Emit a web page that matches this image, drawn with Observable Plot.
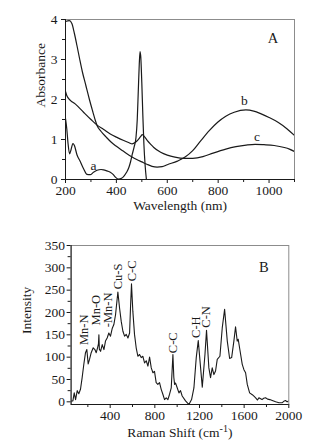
<!DOCTYPE html>
<html><head><meta charset="utf-8">
<script src="https://cdn.jsdelivr.net/npm/d3@7"></script>
<script src="https://cdn.jsdelivr.net/npm/@observablehq/plot@0.6"></script>
<style>
html,body{margin:0;padding:0;background:#fff;}
#chart{width:312px;}
#chart svg{display:block;}
</style>
</head><body><div id="chart"></div>
<script>
// ---------- Panel A: UV-Vis absorbance ----------
const waveA = [200,205,210,216,222,229,235,245,258,271,284,297,310,324,340,350,365,376,388,396,409,420,429,440,449,456,462,470,477,482,486,490,493,496,500,504,508,513,518];
const absA  = [1.52,1.27,0.9,0.64,0.75,0.9,0.85,0.62,0.45,0.27,0.13,0.12,0.18,0.23,0.25,0.24,0.21,0.18,0.12,0.06,0.01,0.03,0.08,0.18,0.3,0.45,0.62,0.82,1.05,1.5,2.2,2.9,3.2,3.05,2.4,1.6,0.9,0.35,0];

const waveB = [200,215,225,235,245,256,266,280,294,308,317,324,340,360,380,400,420,440,460,480,500,520,540,560,580,600,640,670,700,732,765,798,830,863,909,940,969,1000,1035,1070,1100];
const absB  = [3.95,3.97,3.9,3.65,3.35,3.0,2.7,2.35,2.0,1.68,1.48,1.35,1.2,1.06,0.93,0.83,0.74,0.65,0.57,0.5,0.44,0.38,0.33,0.31,0.32,0.37,0.46,0.56,0.72,0.97,1.22,1.43,1.58,1.68,1.74,1.71,1.64,1.55,1.43,1.27,1.1];

const waveC = [200,205,219,238,271,300,324,350,376,400,429,450,462,475,485,495,502,510,521,535,547,574,600,630,666,700,740,780,830,870,910,945,980,1020,1060,1080,1100];
const absC  = [2.2,2.1,1.98,1.89,1.68,1.5,1.36,1.25,1.14,1.06,0.975,0.92,0.89,0.93,0.99,1.07,1.12,1.07,0.98,0.88,0.8,0.68,0.61,0.56,0.53,0.53,0.57,0.66,0.76,0.82,0.86,0.88,0.87,0.85,0.8,0.76,0.7];

const curveNames = ["a","b","c"];
const curveLabelX = [310, 903, 953];
const curveLabelY = [0.35, 1.98, 1.06];

const xTicksA = [200,400,600,800,1000];
const xMinorA = [300,500,700,900,1100];
const yTicksA = [0,1,2,3,4];
const yMinorA = [0.5,1.5,2.5,3.5];

// ---------- Panel B: Raman ----------
const ramanShift = [55,66,78,90,105,119,134,149,164,179,191,203,215,230,248,263,275,287,295,299,303,314,329,344,358,373,388,403,418,433,448,469,484,499,514,529,544,559,574,582,591,603,618,633,648,663,678,693,708,723,738,753,768,783,797,812,827,842,857,872,887,902,917,932,947,962,970,977,986,1001,1016,1030,1045,1075,1105,1129,1150,1171,1189,1210,1225,1249,1263,1284,1299,1314,1329,1344,1359,1383,1404,1425,1449,1470,1488,1508,1523,1538,1547,1559,1583,1598,1613,1628,1649,1673,1690,1703,1720,1732,1760,1775,1792,1810,1830,1852,1882,1912,1942,1960,1971,1985,2000];
const ramanInt   = [2,2,20,5,25,18,28,54,84,110,117,85,95,110,121,117,110,121,130,150,118,113,128,117,136,143,154,147,164,173,195,246,210,180,158,147,151,143,154,210,264,203,151,121,102,106,99,102,87,92,80,100,76,65,68,43,39,43,28,17,5,9,5,17,31,106,55,39,42,31,20,25,13,2,-6,5,31,99,137,76,33,106,160,76,54,76,61,69,95,102,166,207,136,97,99,136,168,136,140,121,84,72,65,39,20,16,12,9,4,9,5,8,9,6,5,3,0,-2,-2,2,3,0,2];

const peakNames = ["Mn-N","Mn-O","-Mn-N","Cu-S","C-C","C-C","C-H","C-N"];
const peakX = [170,269,385,470,594,962,1165,1259];
const peakY = [127,171,167,252,270,109,143,166];

const xTicksB = [400,800,1200,1600,2000];
const xMinorB = [200,600,1000,1400,1800];
const yTicksB = [0,50,100,150,200,250,300,350];
const yMinorB = [25,75,125,175,225,275,325];

// ---------- build ----------
const font = "'Liberation Serif','Times New Roman',serif";
const ink = "#1a1a1a";
const zipXY = (xs, ys) => xs.map((x, i) => ({x, y: ys[i]}));
const fmt = d => String(d);

const plotA = Plot.plot({
  width: 312, height: 223,
  marginLeft: 65, marginRight: 18, marginTop: 19, marginBottom: 44,
  style: {fontFamily: font, fontSize: "13.5px", color: ink, background: "#fff", overflow: "visible"},
  x: {domain: [200, 1100]},
  y: {domain: [0, 4]},
  marks: [
    Plot.frame({stroke: "#8c8c8c"}),
    Plot.ruleX([200], {stroke: ink}),
    Plot.ruleY([0], {stroke: ink}),
    Plot.axisX({ticks: xTicksA, tickSize: 4, tickPadding: 2, tickFormat: fmt, label: null}),
    Plot.axisX({ticks: xMinorA, tickSize: 3, tickFormat: () => "", label: null}),
    Plot.axisY({ticks: yTicksA, tickSize: 4, tickPadding: 4, tickFormat: fmt, label: null}),
    Plot.axisY({ticks: yMinorA, tickSize: 3, tickFormat: () => "", label: null}),
    Plot.line(zipXY(waveA, absA), {x: "x", y: "y", stroke: ink, strokeWidth: 1.2, curve: "monotone-x", clip: true}),
    Plot.line(zipXY(waveB, absB), {x: "x", y: "y", stroke: ink, strokeWidth: 1.2, curve: "monotone-x", clip: true}),
    Plot.line(zipXY(waveC, absC), {x: "x", y: "y", stroke: ink, strokeWidth: 1.2, curve: "monotone-x", clip: true}),
    Plot.text(curveNames, {x: (d, i) => curveLabelX[i], y: (d, i) => curveLabelY[i], text: d => d, fontSize: 13.5, fill: ink}),
    Plot.text(["A"], {x: [1015], y: [3.52], text: d => d, fontSize: 14.5, fill: ink}),
    Plot.text(["Wavelength (nm)"], {frameAnchor: "bottom", dy: 26, text: d => d, fontSize: 13.5, lineAnchor: "middle", fill: ink}),
    Plot.text(["Absorbance"], {frameAnchor: "left", dx: -25, dy: 8, rotate: -90, text: d => d, fontSize: 13.5, lineAnchor: "middle", fill: ink})
  ]
});

const plotB = Plot.plot({
  width: 312, height: 223,
  marginLeft: 70.6, marginRight: 23.7, marginTop: 22, marginBottom: 42,
  style: {fontFamily: font, fontSize: "13.5px", color: ink, background: "#fff", overflow: "visible"},
  x: {domain: [50, 2000]},
  y: {domain: [-6, 350]},
  marks: [
    Plot.frame({stroke: "#8c8c8c"}),
    Plot.ruleX([50], {stroke: ink}),
    Plot.ruleY([-6], {stroke: ink}),
    Plot.axisX({ticks: xTicksB, tickSize: 4, tickPadding: 2, tickFormat: fmt, label: null}),
    Plot.axisX({ticks: xMinorB, tickSize: 3, tickFormat: () => "", label: null}),
    Plot.axisY({ticks: yTicksB, tickSize: 4, tickPadding: 2, tickFormat: fmt, label: null}),
    Plot.axisY({ticks: yMinorB, tickSize: 3, tickFormat: () => "", label: null}),
    Plot.line(zipXY(ramanShift, ramanInt), {x: "x", y: "y", stroke: ink, strokeWidth: 1.1, clip: true}),
    Plot.text(peakNames, {x: (d, i) => peakX[i], y: (d, i) => peakY[i], text: d => d, rotate: -90, textAnchor: "start", lineAnchor: "middle", fontSize: 12.5, fill: ink}),
    Plot.text(["B"], {x: [1777], y: [301], text: d => d, fontSize: 14.5, fill: ink}),
    Plot.text(["Raman Shift (cm-1)"], {frameAnchor: "bottom", dy: 28, text: d => d, fontSize: 13.5, lineAnchor: "middle", fill: ink}),
    Plot.text(["Intensity"], {frameAnchor: "left", dx: -44, dy: 9, rotate: -90, text: d => d, fontSize: 13.5, lineAnchor: "middle", fill: ink})
  ]
});

// superscript for cm-1
d3.select(plotB).selectAll("text").filter(function() { return this.textContent === "Raman Shift (cm-1)"; })
  .each(function() {
    const t = d3.select(this);
    t.text(null);
    t.append("tspan").text("Raman Shift (cm");
    t.append("tspan").attr("dy", "-0.45em").attr("font-size", "0.75em").text("-1");
    t.append("tspan").attr("dy", "0.34em").text(")");
  });

const host = document.getElementById("chart");
host.appendChild(plotA);
host.appendChild(plotB);
</script>
</body></html>
